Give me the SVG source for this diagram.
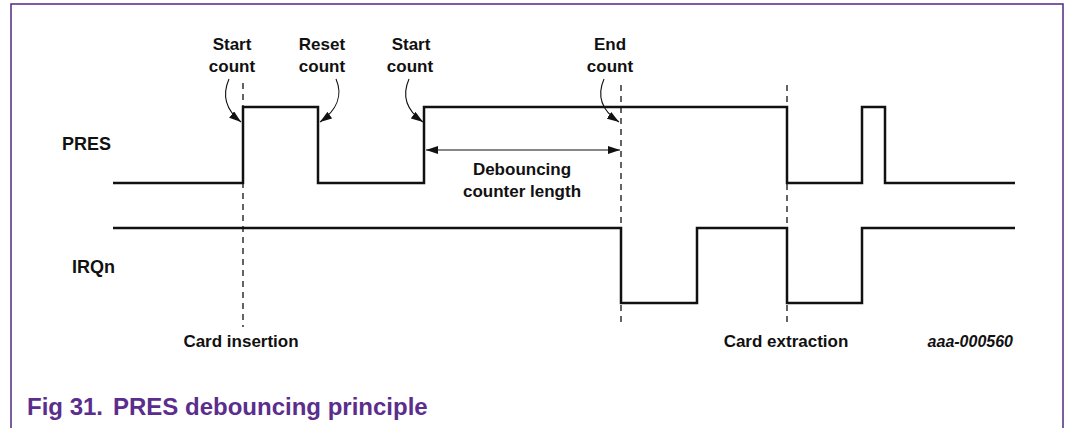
<svg xmlns="http://www.w3.org/2000/svg" width="1066" height="428" viewBox="0 0 1066 428">
<defs>
<style>
.lbl{font-family:"Liberation Sans",Arial,sans-serif;font-size:17px;font-weight:bold;fill:#111;text-anchor:middle}
.sig{font-family:"Liberation Sans",Arial,sans-serif;font-size:18px;font-weight:bold;fill:#111}
.wave{fill:none;stroke:#111;stroke-width:2.5;stroke-linejoin:miter}
.dash{fill:none;stroke:#111;stroke-width:1.3;stroke-dasharray:6 5}
.arr{fill:none;stroke:#111;stroke-width:1.1}
.title{font-family:"Liberation Sans",Arial,sans-serif;font-size:24px;font-weight:bold;fill:#5b2d8c}
</style>
<marker id="ah" viewBox="0 0 12 8" refX="12" refY="4" markerWidth="12" markerHeight="8" markerUnits="userSpaceOnUse" orient="auto-start-reverse">
<path d="M0,0 L12,4 L0,8 Z" fill="#111"/>
</marker>
</defs>
<rect width="1066" height="428" fill="#fff"/>
<path d="M11,428 V4 H1063 V428" fill="none" stroke="#4f2a80" stroke-width="1.5"/>

<g id="pres">
<text class="sig" x="62" y="150">PRES</text>
<path class="wave" d="M113,183 H243 V107 H318 V183 H424 V107 H787 V183 H862 V107 H885 V183 H1015"/>
</g>
<g id="irqn">
<text class="sig" x="72" y="273">IRQn</text>
<path class="wave" d="M113,228 H621 V303 H697 V228 H787 V303 H862 V228 H1015"/>
</g>

<g id="markers">
<line class="dash" x1="243" y1="83" x2="243" y2="327"/>
<line class="dash" x1="621" y1="85" x2="621" y2="327"/>
<line class="dash" x1="787" y1="85" x2="787" y2="327"/>
</g>

<g id="connectors">
<path class="arr" d="M229,79 C222,95 226,110 241,122" marker-end="url(#ah)"/>
<path class="arr" d="M336,79 C343,95 337,110 320,122" marker-end="url(#ah)"/>
<path class="arr" d="M409,79 C402,95 406,110 423,122" marker-end="url(#ah)"/>
<path class="arr" d="M604,79 C597,95 601,110 619,122" marker-end="url(#ah)"/>
<line class="arr" x1="426" y1="150" x2="620" y2="150" marker-start="url(#ah)" marker-end="url(#ah)"/>
</g>

<g id="start-count-1"><text class="lbl" x="232" y="50">Start</text><text class="lbl" x="232" y="72">count</text></g>
<g id="reset-count"><text class="lbl" x="322" y="50">Reset</text><text class="lbl" x="322" y="72">count</text></g>
<g id="start-count-2"><text class="lbl" x="411" y="50">Start</text><text class="lbl" x="410" y="72">count</text></g>
<g id="end-count"><text class="lbl" x="610" y="50">End</text><text class="lbl" x="610" y="72">count</text></g>
<g id="debounce"><text class="lbl" x="522" y="175">Debouncing</text><text class="lbl" x="522" y="197">counter length</text></g>
<g id="card-insertion"><text class="lbl" x="241" y="347">Card insertion</text></g>
<g id="card-extraction"><text class="lbl" x="786" y="347">Card extraction</text></g>
<text x="1013" y="347" font-family="Liberation Sans, Arial, sans-serif" font-size="16" font-weight="bold" font-style="italic" fill="#111" text-anchor="end">aaa-000560</text>

<text class="title" x="27" y="415">Fig 31.</text>
<text class="title" x="113" y="415">PRES debouncing principle</text>
</svg>
